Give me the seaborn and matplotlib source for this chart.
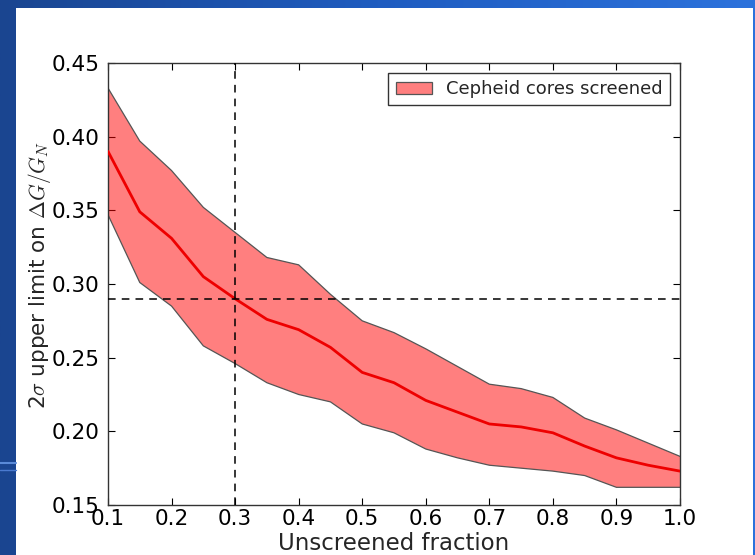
import numpy as np
import pandas as pd
import matplotlib
matplotlib.use("Agg")
import matplotlib.pyplot as plt
import seaborn as sns
from matplotlib.patches import Rectangle
from matplotlib.colors import LinearSegmentedColormap

fraction = [0.10, 0.15, 0.20, 0.25, 0.30, 0.35, 0.40, 0.45, 0.50, 0.55,
            0.60, 0.65, 0.70, 0.75, 0.80, 0.85, 0.90, 0.95, 1.00]
mean_limit = [0.390, 0.349, 0.331, 0.305, 0.290, 0.276, 0.269, 0.257, 0.240, 0.233,
              0.221, 0.213, 0.205, 0.203, 0.199, 0.190, 0.182, 0.177, 0.173]
upper_band = [0.433, 0.397, 0.377, 0.352, 0.335, 0.318, 0.313, 0.293, 0.275, 0.267,
              0.256, 0.244, 0.232, 0.229, 0.223, 0.209, 0.201, 0.192, 0.183]
lower_band = [0.347, 0.301, 0.285, 0.258, 0.246, 0.233, 0.225, 0.220, 0.205, 0.199,
              0.188, 0.182, 0.177, 0.175, 0.173, 0.170, 0.162, 0.162, 0.162]
x_ref = 0.3
y_ref = 0.29
legend_label = "Cepheid cores screened"

df = pd.DataFrame({"fraction": fraction, "mean": mean_limit,
                   "upper": upper_band, "lower": lower_band})

sns.set_style("ticks")
plt.rcParams['font.family'] = ['DejaVu Sans']
plt.rcParams['mathtext.fontset'] = 'cm'

fig = plt.figure(figsize=(7.55, 5.55), dpi=100)

# slide-like blue background with white panel
bg = fig.add_axes([0, 0, 1, 1], zorder=-10)
grad = np.linspace(0, 1, 256).reshape(1, -1)
cmap = LinearSegmentedColormap.from_list("bgblue", ["#1a4590", "#1f5cc0", "#2c72dc"])
bg.imshow(grad, extent=[0, 1, 0, 1], aspect='auto', cmap=cmap, transform=bg.transAxes)
bg.add_patch(Rectangle((16/755, 0), (753-16)/755, (555-8)/555,
                       transform=bg.transAxes, facecolor="white", edgecolor="none"))
bg.plot([0, 16/755], [1-463/555, 1-463/555], color="#5a8ad8", lw=1.5, transform=bg.transAxes)
bg.plot([0, 16/755], [1-470/555, 1-470/555], color="#4a7ad0", lw=1.0, transform=bg.transAxes)
bg.set_xlim(0, 1); bg.set_ylim(0, 1)
bg.axis('off')

ax = fig.add_axes([108/755, 1-505/555, (680-108)/755, (505-63)/555])
ax.set_facecolor("white")

ax.fill_between(df["fraction"], df["lower"], df["upper"], facecolor="#ff0000",
                alpha=0.5, edgecolor="none", label=legend_label, zorder=2)
ax.plot(df["fraction"], df["upper"], color="#555555", lw=0.9, zorder=2.5)
ax.plot(df["fraction"], df["lower"], color="#555555", lw=0.9, zorder=2.5)
sns.lineplot(data=df, x="fraction", y="mean", color="#ee0000", lw=2.0, ax=ax,
             zorder=3, legend=False)

ax.axvline(x_ref, color="black", ls=(0, (5, 4)), lw=1.1, zorder=4)
ax.axhline(y_ref, color="black", ls=(0, (5, 4)), lw=1.1, zorder=4)

ax.set_xlim(0.1, 1.0)
ax.set_ylim(0.15, 0.45)
ax.set_xticks(np.arange(0.1, 1.01, 0.1))
ax.set_yticks(np.arange(0.15, 0.451, 0.05))
ax.set_xticklabels([f"{v:.1f}" for v in np.arange(0.1, 1.01, 0.1)])
ax.set_yticklabels([f"{v:.2f}" for v in np.arange(0.15, 0.451, 0.05)])
ax.tick_params(direction="in", top=True, right=True, length=5, width=0.8,
               labelsize=15.5, colors="black")
ax.tick_params(axis="x", pad=3)
ax.tick_params(axis="y", pad=6)
for s in ax.spines.values():
    s.set_visible(True)
    s.set_color("#333333")
    s.set_linewidth(1.0)

ax.set_xlabel("Unscreened fraction", fontsize=16.5, labelpad=2)
ax.set_ylabel(r"2$\sigma$ upper limit on $\Delta G/G_N$", fontsize=15.5)
ax.yaxis.set_label_coords(-0.097, 0.52)

leg = ax.legend(loc="upper right", fontsize=13, frameon=True, fancybox=False,
                handlelength=2.0, borderpad=0.4, borderaxespad=0.55)
leg.get_frame().set_edgecolor("black")
leg.get_frame().set_linewidth(1.0)
leg.legend_handles[0].set_edgecolor("#555555")
leg.legend_handles[0].set_linewidth(0.9)

fig.savefig("out.png", dpi=100)
